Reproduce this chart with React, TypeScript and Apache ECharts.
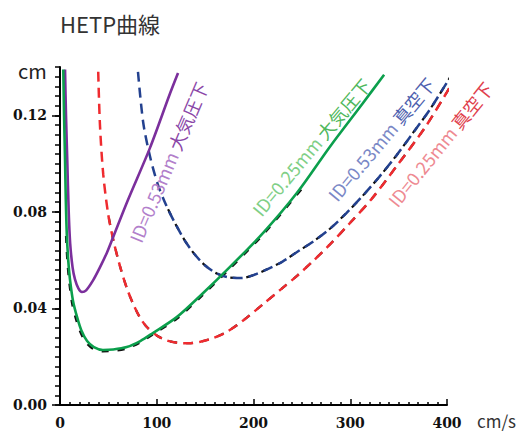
import React, { useEffect, useRef } from "react";
import * as echarts from "echarts";

// ---- data (u: cm/s, H: cm) ----
const purpleU = [5.2, 6.2, 7.5, 9, 10.5, 13, 15.5, 19, 22.7, 27, 34, 41, 48.6, 55, 70, 93, 113.7, 122];
const purpleH = [0.139, 0.12, 0.1016, 0.08, 0.067, 0.057, 0.052, 0.0483, 0.0468, 0.0475, 0.0515, 0.0568, 0.0632, 0.0696, 0.0847, 0.1065, 0.129, 0.1375];

const greenU = [3.4, 4.2, 5.2, 6, 7, 8.5, 10.3, 13.5, 17.6, 22, 28, 35, 44.4, 55, 69, 83, 96, 121, 148, 175.7, 210, 245, 279, 313, 335];
const greenH = [0.139, 0.12, 0.1016, 0.085, 0.071, 0.06, 0.052, 0.043, 0.0365, 0.031, 0.0265, 0.024, 0.0228, 0.023, 0.024, 0.0265, 0.0298, 0.0365, 0.0464, 0.0572, 0.0713, 0.0879, 0.107, 0.125, 0.1368];

const blueU = [80.6, 86, 93, 101, 110, 120, 130, 140, 150, 162, 175, 188, 200, 214, 230, 245, 262, 279, 296, 313, 330, 348, 365, 382, 403];
const blueH = [0.138, 0.117, 0.103, 0.0915, 0.0825, 0.0745, 0.0675, 0.062, 0.0578, 0.0545, 0.0528, 0.0526, 0.0538, 0.0562, 0.0594, 0.0634, 0.0678, 0.073, 0.0795, 0.0867, 0.0945, 0.1035, 0.1128, 0.1222, 0.1356];

const redU = [39.5, 41.3, 44.7, 49.8, 55, 62, 69, 76, 83, 90, 100, 110, 121, 133, 145, 158, 172, 190, 210, 228, 245, 262, 279, 300, 323, 349, 377, 398, 410];
const redH = [0.138, 0.116, 0.0955, 0.079, 0.0685, 0.0575, 0.0485, 0.0415, 0.036, 0.0322, 0.0288, 0.0268, 0.0258, 0.0256, 0.0262, 0.0277, 0.0302, 0.0352, 0.0418, 0.0478, 0.0535, 0.0598, 0.0665, 0.0755, 0.0858, 0.0995, 0.1148, 0.1283, 0.1365];

// black dashed (theoretical) curves lying along the measured ones
const blackGreenU = [6.2, 7.5, 9.5, 12.5, 16.5, 21, 27, 34, 44, 55, 69, 83, 96, 121, 148, 175.7, 210, 250];
const blackGreenH = [0.07, 0.06, 0.051, 0.042, 0.0355, 0.0302, 0.0258, 0.0233, 0.0222, 0.0224, 0.0234, 0.0259, 0.0292, 0.0358, 0.0457, 0.0565, 0.0706, 0.0895];
const blackRedStart = 3;
const blackBlueStart = 4;

const xTicks = [0, 100, 200, 300, 400];
const yMax = 0.14;

const pairs = (u: number[], h: number[], start = 0) =>
  u.slice(start).map((v, i) => [v, h[i + start]]);

export default function App() {
  const ref = useRef<HTMLDivElement>(null);
  useEffect(() => {
    if (!ref.current) return;
    const chart = echarts.init(ref.current, undefined, { renderer: "svg" });
    const labelFont = { fontFamily: "DejaVu Serif", fontWeight: "bold" as const, fontSize: 14, color: "#111" };
    const cjk = "'Noto Sans CJK JP', 'Noto Sans', sans-serif";
    const rot = (d: number) => (d * Math.PI) / 180;
    const mkLabel = (x: number, y: number, deg: number, a: string, b: string, ca: string, cb: string) => ({
      type: "text",
      x,
      y,
      rotation: rot(deg),
      style: {
        text: `{a|${a}} {b|${b}}`,
        fontFamily: cjk,
        fontSize: 18,
        align: "center",
        verticalAlign: "middle",
        rich: {
          a: { fontFamily: cjk, fontSize: 18, fill: ca },
          b: { fontFamily: cjk, fontSize: 18, fill: cb },
        },
      },
      z: 20,
    });
    const smoothCfg = { smooth: 0.3, showSymbol: false, clip: false };
    const dashed = (name: string, data: number[][], color: string, z: number) => ({
      name,
      type: "line",
      data,
      ...smoothCfg,
      z,
      lineStyle: { color, width: 2.5, type: [10, 6] },
    });
    const black = (data: number[][], offset: number) => ({
      type: "line",
      data,
      ...smoothCfg,
      z: 1,
      lineStyle: { color: "#111", width: 2.2, type: [7, 9], dashOffset: offset },
    });
    chart.setOption({
      animation: false,
      backgroundColor: "#fff",
      title: {
        text: "HETP曲線",
        left: 55,
        top: 7,
        textStyle: { fontFamily: cjk, fontSize: 22, fontWeight: "normal", color: "#333" },
      },
      grid: { left: 60, right: 83, top: 67, bottom: 26 },
      xAxis: {
        type: "value",
        min: xTicks[0],
        max: xTicks[xTicks.length - 1],
        interval: 100,
        axisLine: { lineStyle: { color: "#000", width: 2 } },
        axisTick: { inside: true, length: 6, lineStyle: { color: "#000", width: 1.5 } },
        minorTick: { show: true, splitNumber: 10, length: 3, lineStyle: { color: "#000", width: 1.5 } },
        axisLabel: { ...labelFont, margin: 11 },
        splitLine: { show: false },
      },
      yAxis: [
        {
          type: "value",
          min: 0,
          max: yMax,
          interval: 0.04,
          axisLine: { show: true, lineStyle: { color: "#000", width: 2 } },
          axisTick: { show: true, length: 8, lineStyle: { color: "#000", width: 1.5 } },
          axisLabel: { ...labelFont, margin: 13, showMaxLabel: false, formatter: (v: number) => v.toFixed(2) },
          splitLine: { show: false },
        },
        {
          type: "value",
          min: 0,
          max: yMax,
          interval: 0.004,
          position: "left",
          axisLine: { show: false },
          axisTick: { show: true, length: 5, lineStyle: { color: "#000", width: 1.5 } },
          axisLabel: { show: false },
          splitLine: { show: false },
        },
      ],
      graphic: [
        { type: "text", x: 18, y: 70, style: { text: "cm", fontFamily: cjk, fontSize: 20, fill: "#222", verticalAlign: "middle" } },
        { type: "text", x: 477, y: 420, style: { text: "cm/s", fontFamily: cjk, fontSize: 17, lineHeight: 18, fill: "#333", verticalAlign: "middle" } },
        mkLabel(168, 162, 67, "ID=0.53mm", "大気圧下", "#b27fcb", "#8b47a8"),
        mkLabel(311, 147, 50, "ID=0.25mm", "大気圧下", "#7fcf86", "#4fb85c"),
        mkLabel(381, 139, 50, "ID=0.53mm", "真空下", "#7a88c6", "#4e5fae"),
        mkLabel(440, 144, 51, "ID=0.25mm", "真空下", "#ee8a92", "#e0404c"),
      ],
      series: [
        black(pairs(blackGreenU, blackGreenH), 0),
        black(pairs(redU, redH, blackRedStart), 12),
        black(pairs(blueU, blueH, blackBlueStart), 12),
        {
          name: "ID=0.53mm 大気圧下",
          type: "line",
          data: pairs(purpleU, purpleH),
          ...smoothCfg,
          z: 5,
          lineStyle: { color: "#7b2f9c", width: 2.6 },
        },
        {
          name: "ID=0.25mm 大気圧下",
          type: "line",
          data: pairs(greenU, greenH),
          ...smoothCfg,
          z: 5,
          lineStyle: { color: "#0b9f4c", width: 2.6 },
        },
        dashed("ID=0.53mm 真空下", pairs(blueU, blueH), "#23418f", 4),
        dashed("ID=0.25mm 真空下", pairs(redU, redH), "#ef2b2f", 4),
      ],
    });
    return () => chart.dispose();
  }, []);
  return <div ref={ref} style={{ position: "absolute", left: 0, top: 0, width: 530, height: 431 }} />;
}
